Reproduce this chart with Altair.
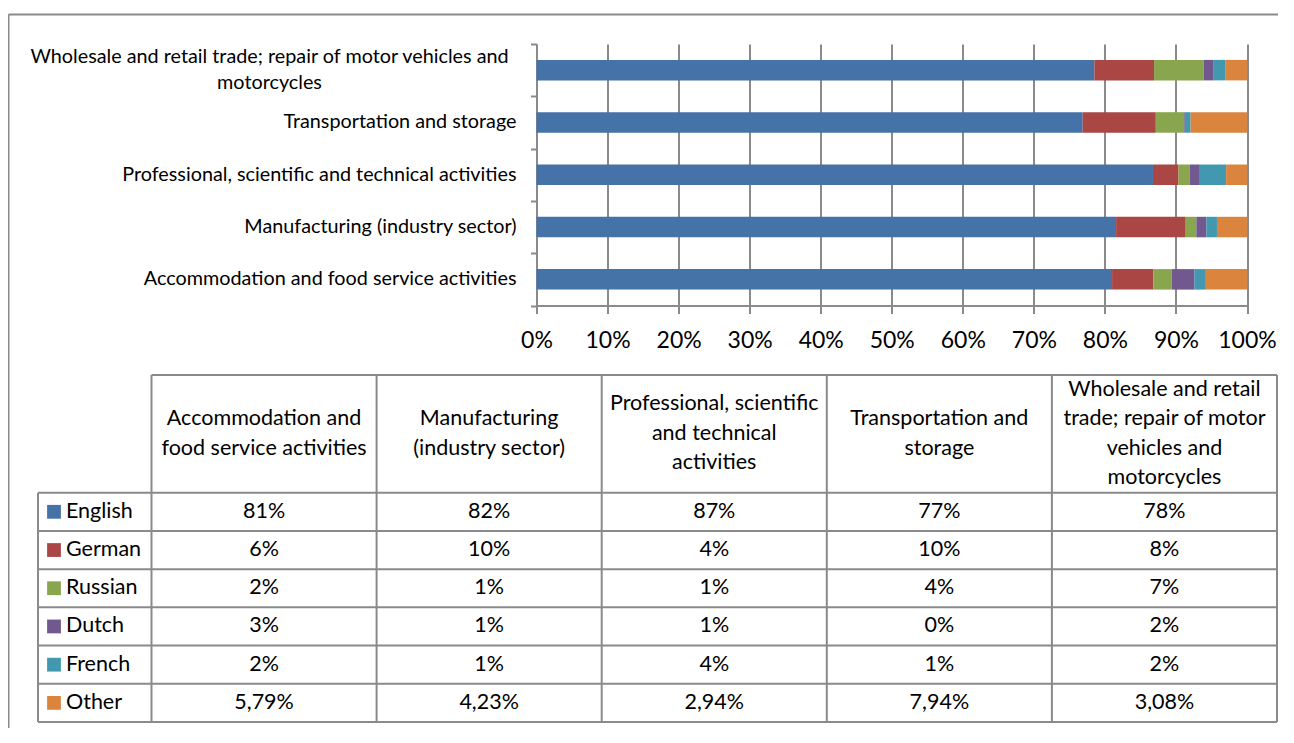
import altair as alt
import pandas as pd

# ---------------- data ----------------
categories = [
    "Accommodation and food service activities",
    "Manufacturing (industry sector)",
    "Professional, scientific and technical activities",
    "Transportation and storage",
    "Wholesale and retail trade; repair of motor vehicles and motorcycles",
]
bar_label_lines = [
    ["Accommodation and food service activities"],
    ["Manufacturing (industry sector)"],
    ["Professional, scientific and technical activities"],
    ["Transportation and storage"],
    ["Wholesale and retail trade; repair of motor vehicles and", "motorcycles"],
]
header_lines = [
    ["Accommodation and", "food service activities"],
    ["Manufacturing", "(industry sector)"],
    ["Professional, scientific", "and technical", "activities"],
    ["Transportation and", "storage"],
    ["Wholesale and retail", "trade; repair of motor", "vehicles and", "motorcycles"],
]
languages = ["English", "German", "Russian", "Dutch", "French", "Other"]
colors = ["#4572A7", "#AA4643", "#89A54E", "#71588F", "#4198AF", "#DB843D"]

# shares (%) per category
english = [81.0, 81.6, 86.8, 76.9, 78.5]
german = [5.8, 9.8, 3.6, 10.3, 8.4]
russian = [2.6, 1.5, 1.6, 4.0, 7.0]
dutch = [3.2, 1.4, 1.4, 0.1, 1.4]
french = [1.6, 1.5, 3.7, 0.8, 1.6]
other = [5.79, 4.23, 2.94, 7.94, 3.08]

# table labels as printed
english_labels = ["81%", "82%", "87%", "77%", "78%"]
german_labels = ["6%", "10%", "4%", "10%", "8%"]
russian_labels = ["2%", "1%", "1%", "4%", "7%"]
dutch_labels = ["3%", "1%", "1%", "0%", "2%"]
french_labels = ["2%", "1%", "4%", "1%", "2%"]
other_labels = ["5,79%", "4,23%", "2,94%", "7,94%", "3,08%"]

x_ticks = [0, 0.1, 0.2, 0.3, 0.4, 0.5, 0.6, 0.7, 0.8, 0.9, 1.0]

# ---------------- tables ----------------
series = [english, german, russian, dutch, french, other]
series_labels = [english_labels, german_labels, russian_labels,
                 dutch_labels, french_labels, other_labels]

bar_rows = []
for li, (lang, vals) in enumerate(zip(languages, series)):
    for cat, v in zip(categories, vals):
        bar_rows.append({"category": cat, "lang": lang, "value": v, "order": li})
bars_df = pd.DataFrame(bar_rows)

single_df = pd.DataFrame([{"category": c, "text": l[0]}
                          for c, l in zip(categories, bar_label_lines) if len(l) == 1])
wrapped_df = pd.DataFrame([{"category": c, "text": "\n".join(l)}
                           for c, l in zip(categories, bar_label_lines) if len(l) > 1])

ncol = len(categories)
nrow = len(languages)
grid_rows = [{"x": 0, "x2": ncol, "y": -1, "y2": -1}]
for r in range(nrow + 1):
    grid_rows.append({"x": -1, "x2": ncol, "y": r, "y2": r})
grid_rows.append({"x": -1, "x2": -1, "y": 0, "y2": nrow})
for c in range(ncol + 1):
    grid_rows.append({"x": c, "x2": c, "y": -1, "y2": nrow})
grid_df = pd.DataFrame(grid_rows)

header_df = pd.DataFrame([{"col": i + 0.5, "row": -0.5, "text": "\n".join(l), "n": len(l)}
                          for i, l in enumerate(header_lines)])
lang_df = pd.DataFrame([{"col": -1, "row": r + 0.5, "lang": lang}
                        for r, lang in enumerate(languages)])
cell_rows = []
for r, labs in enumerate(series_labels):
    for c, t in enumerate(labs):
        cell_rows.append({"col": c + 0.5, "row": r + 0.5, "text": t})
cell_df = pd.DataFrame(cell_rows)

# ---------------- styles ----------------
FONT = "Lato"
GRAY = "#8a8a8a"
TOP_FS = 19.8
TABLE_FS = 21.5
XLAB_FS = 23
HEAD_LH = 29.5
WRAP_LH = 26

color_scale = alt.Scale(domain=languages, range=colors)
y_order = categories[::-1]
yscale = alt.Scale(domain=y_order, paddingInner=0, paddingOuter=0)
xscale = alt.Scale(domain=[0, 1], nice=False, zero=True)

bars = alt.Chart(bars_df).mark_bar(height=20.5).encode(
    y=alt.Y("category:N", sort=y_order, scale=yscale,
            axis=alt.Axis(labels=False, title=None, tickBand="extent", tickSize=6,
                          tickColor=GRAY, tickWidth=2, domainColor=GRAY, domainWidth=2,
                          grid=False)),
    x=alt.X("value:Q", stack="normalize", scale=xscale,
            axis=alt.Axis(values=x_ticks, format="%", title=None, grid=True,
                          gridColor=GRAY, gridWidth=2, domainColor=GRAY, domainWidth=2,
                          tickColor=GRAY, tickWidth=2, tickSize=8, labelFlush=False,
                          labelFont=FONT, labelFontSize=XLAB_FS, labelColor="black",
                          labelBaseline="middle", labelPadding=27)),
    color=alt.Color("lang:N", scale=color_scale, legend=None),
    order=alt.Order("order:Q"),
)

labels_single = alt.Chart(single_df).mark_text(
    align="right", baseline="middle", dx=-20, font=FONT, fontSize=TOP_FS, color="black"
).encode(y=alt.Y("category:N", sort=y_order, scale=yscale), x=alt.datum(0), text="text:N")

labels_wrapped = alt.Chart(wrapped_df).mark_text(
    align="center", baseline="middle", dx=-267, dy=-WRAP_LH / 2, font=FONT, fontSize=TOP_FS,
    color="black", lineBreak="\n", lineHeight=WRAP_LH
).encode(y=alt.Y("category:N", sort=y_order, scale=yscale), x=alt.datum(0), text="text:N")

top = alt.layer(bars, labels_single, labels_wrapped)

tx = alt.Scale(domain=[-1, 0, ncol], range=[-498.5, -385, 740.5], nice=False, zero=False)
ty = alt.Scale(domain=[-1, 0, nrow], range=[331, 448.7, 678], nice=False, zero=False)

grid = alt.Chart(grid_df).mark_rule(color=GRAY, strokeWidth=2).encode(
    x=alt.X("x:Q", scale=tx, axis=None), x2="x2:Q",
    y=alt.Y("y:Q", scale=ty, axis=None), y2="y2:Q",
)

header_layers = []
for n in sorted(header_df["n"].unique()):
    header_layers.append(
        alt.Chart(header_df[header_df["n"] == n]).mark_text(
            align="center", baseline="middle", font=FONT, fontSize=TABLE_FS, color="black",
            lineBreak="\n", lineHeight=HEAD_LH, dy=-(n - 1) * HEAD_LH / 2
        ).encode(x=alt.X("col:Q", scale=tx, axis=None), y=alt.Y("row:Q", scale=ty, axis=None),
                 text="text:N")
    )

swatch = alt.Chart(lang_df).mark_square(size=190, opacity=1, xOffset=16).encode(
    x=alt.X("col:Q", scale=tx, axis=None), y=alt.Y("row:Q", scale=ty, axis=None),
    color=alt.Color("lang:N", scale=color_scale, legend=None),
)
lang_text = alt.Chart(lang_df).mark_text(
    align="left", baseline="middle", dx=28, font=FONT, fontSize=TABLE_FS, color="black"
).encode(x=alt.X("col:Q", scale=tx, axis=None), y=alt.Y("row:Q", scale=ty, axis=None),
         text="lang:N")
cells = alt.Chart(cell_df).mark_text(
    align="center", baseline="middle", font=FONT, fontSize=TABLE_FS, color="black"
).encode(x=alt.X("col:Q", scale=tx, axis=None), y=alt.Y("row:Q", scale=ty, axis=None),
         text="text:N")

table = alt.layer(grid, *header_layers, swatch, lang_text, cells)

frame = alt.layer(
    alt.Chart().mark_rule(color=GRAY, strokeWidth=2).encode(
        x=alt.value(-528), y=alt.value(-29.5), y2=alt.value(700)),
    alt.Chart().mark_rule(color=GRAY, strokeWidth=2).encode(
        x=alt.value(-528), x2=alt.value(760), y=alt.value(-29.5)),
)

chart = alt.layer(frame, top, table).resolve_scale(
    x="independent", y="independent"
).properties(
    width=710.5, height=261.5,
    padding={"left": 528.5, "top": 36, "right": 31, "bottom": 422.5},
    autosize=alt.AutoSizeParams(type="none"),
).configure_view(stroke=None)

chart.save("out.html", embed_options={"renderer": "svg", "actions": False})
